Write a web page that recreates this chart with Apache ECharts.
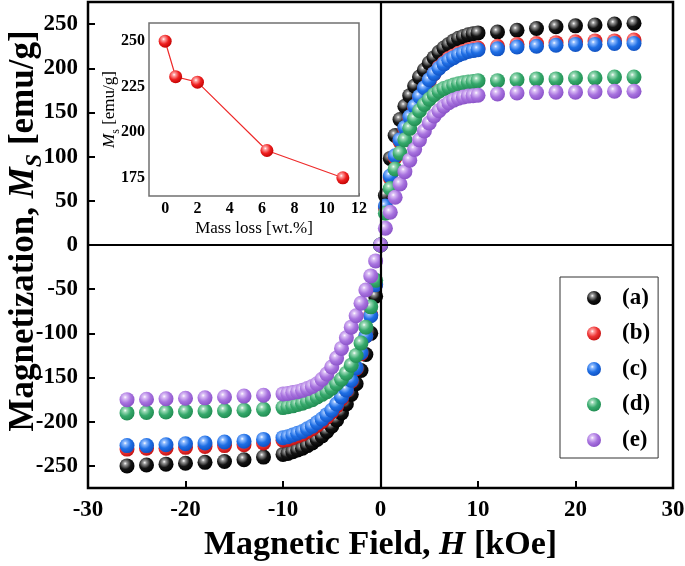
<!DOCTYPE html>
<html>
<head>
<meta charset="utf-8">
<script src="https://cdn.jsdelivr.net/npm/echarts@6/dist/echarts.min.js"></script>
<style>html,body{margin:0;padding:0;background:#fff}#c{width:685px;height:566px}</style>
</head>
<body>
<div id="c"></div>
<script>
// Magnetic field H [kOe]
const fieldH = [-26,-24,-22,-20,-18,-16,-14,-12,
  -10,-9.5,-9,-8.5,-8,-7.5,-7,-6.5,-6,-5.5,-5,-4.5,-4,-3.5,-3,-2.5,-2,-1.5,-1,-0.5,
  0,
  0.5,1,1.5,2,2.5,3,3.5,4,4.5,5,5.5,6,6.5,7,7.5,8,8.5,9,9.5,10,
  12,14,16,18,20,22,24,26];

// Magnetization M [emu/g] for each sample
const magA = [-250,-249,-248,-247,-246,-245,-243,-240,
  -237,-236,-234,-232,-230,-227,-224,-220,-216,-211,-205,-198,-190,-180,-169,-157,-142,-124,-100,-58,
  0,
  56,98,124,142,157,169,180,190,198,206,212,218,223,227,231,234,236,238,239,240,
  241,243,245,247,248,249,250,251];
const magB = [-231,-230,-230,-229,-228,-227,-226,-224,
  -221,-220,-218,-216,-214,-211,-208,-204,-200,-195,-189,-182,-174,-165,-154,-140,-123,-103,-79,-44,
  0,
  42,76,99,117,131,143,155,166,177,186,194,201,206,211,214,217,219,221,222,223,
  225,227,228,229,230,231,231,232];
const magC = [-227,-227,-226,-225,-224,-223,-222,-220,
  -218,-217,-215,-213,-211,-208,-205,-201,-197,-192,-187,-180,-172,-164,-153,-139,-122,-103,-80,-45,
  0,
  44,78,101,119,133,145,157,168,178,187,194,200,205,209,212,215,217,219,220,221,
  222,224,225,226,227,227,228,228];
const magD = [-190,-189.5,-189,-188.5,-188,-187.5,-187,-186,
  -184,-183,-182,-180.5,-179,-177,-175,-172,-169,-166,-162,-157,-152,-145,-136,-125,-111,-93,-70,-40,
  0,
  36,64,86,104,119,132,143,152,159,165,170,174,177,179,181,182.5,183.5,184.5,185,186,
  186,187,188,188,189,189,190,190];
const magE = [-175,-174.5,-174,-173.5,-173,-172,-171,-170,
  -168.5,-168,-167,-166,-164.5,-162.5,-160,-157,-152,-146,-138,-128,-117,-105,-93,-80,-66,-51,-35,-18,
  0,
  19,37,54,69,83,96,108,119,129,138,146,152,157,161,164,166,167.5,168.5,169,169.5,
  171,172,172.5,173,173,173.5,174,174];

const sampleNames = ['(a)','(b)','(c)','(d)','(e)'];

// Inset: saturation magnetization vs mass loss
const massLoss = [0, 0.65, 2, 6.3, 11];
const msValues = [250, 230.5, 227.5, 190, 175];

const mainYTicks = [-250,-200,-150,-100,-50,0,50,100,150,200,250];
const insetXTicks = [0,2,4,6,8,10,12];
const insetYTicks = [175,200,225,250];

const FONT = "'Liberation Serif','Times New Roman',serif";

function ball(base, light, dark) {
  return {type:'radial', x:0.38, y:0.34, r:0.7, colorStops:[
    {offset:0, color:'#ffffff'},
    {offset:0.16, color:light},
    {offset:0.55, color:base},
    {offset:1, color:dark}
  ]};
}
const balls = [
  ball('#141414','#9a9a9a','#000000'),
  ball('#ee3434','#ffa0a0','#c01010'),
  ball('#1f6fe5','#90bcff','#0f4fbf'),
  ball('#36a96c','#a0dcba','#1f8a50'),
  ball('#a873df','#dcc0f6','#8850c6')
];
const mags = [magA, magB, magC, magD, magE];

const scatterSeries = mags.map((m, k) => ({
  name: sampleNames[k],
  type: 'scatter',
  xAxisIndex: 0, yAxisIndex: 0,
  symbol: 'circle',
  symbolSize: 15,
  z: 3,
  itemStyle: {color: balls[k], opacity: 1},
  emphasis: {disabled: true},
  data: fieldH.map((h, i) => [h, m[i]])
}));

const chart = echarts.init(document.getElementById('c'), null, {renderer: 'canvas'});
chart.setOption({
  backgroundColor: '#fff',
  animation: false,
  textStyle: {fontFamily: FONT},
  grid: [
    {left: 88, top: 2, width: 585, height: 486, show: true, borderColor: '#000', borderWidth: 2.5, backgroundColor: '#fff', containLabel: false, outerBoundsMode: 'none'},
    {left: 149, top: 23, width: 210, height: 173, show: true, borderColor: '#707070', borderWidth: 1.5, backgroundColor: '#fff', z: 5, containLabel: false, outerBoundsMode: 'none'}
  ],
  xAxis: [
    {gridIndex: 0, type: 'value', min: -30, max: 30, interval: 10,
     axisLine: {show: false, onZero: false},
     axisTick: {show: true, inside: true, length: 7, lineStyle: {color: '#000', width: 2}},
     axisLabel: {color: '#000', fontSize: 23, fontWeight: 'bold', fontFamily: FONT, margin: 11},
     splitLine: {show: false},
     name: '{b|Magnetic Field, }{i|H}{b| [kOe]}', nameLocation: 'middle', nameGap: 40, nameMoveOverlap: false,
     nameTextStyle: {rich: {
       b: {fontSize: 34, fontWeight: 'bold', fontFamily: FONT, color: '#000'},
       i: {fontSize: 34, fontWeight: 'bold', fontStyle: 'italic', fontFamily: FONT, color: '#000'}
     }}},
    {gridIndex: 1, type: 'value', min: -1, max: 12,
     axisLine: {show: false, onZero: false},
     axisTick: {show: true, inside: true, length: 3, customValues: insetXTicks, lineStyle: {color: '#707070', width: 1}},
     axisLabel: {color: '#000', fontSize: 16, fontWeight: 'bold', fontFamily: FONT, margin: 5, customValues: insetXTicks},
     splitLine: {show: false},
     name: 'Mass loss [wt.%]', nameLocation: 'middle', nameGap: 24, nameMoveOverlap: false,
     nameTextStyle: {fontSize: 17, color: '#000', fontFamily: FONT}}
  ],
  yAxis: [
    {gridIndex: 0, type: 'value', min: -275, max: 275,
     axisLine: {show: false, onZero: false},
     axisTick: {show: true, inside: true, length: 7, customValues: mainYTicks, lineStyle: {color: '#000', width: 2}},
     axisLabel: {color: '#000', fontSize: 23, fontWeight: 'bold', fontFamily: FONT, margin: 10, customValues: mainYTicks},
     splitLine: {show: false},
     name: '{b|Magnetization, }{i|M}{s|S}{b| [emu/g]}', nameLocation: 'middle', nameGap: 47, nameRotate: 90, nameMoveOverlap: false,
     nameTextStyle: {padding: [0, 0, 0, 28], rich: {
       b: {fontSize: 35, fontWeight: 'bold', fontFamily: FONT, color: '#000', lineHeight: 38, verticalAlign: 'bottom'},
       i: {fontSize: 35, fontWeight: 'bold', fontStyle: 'italic', fontFamily: FONT, color: '#000', lineHeight: 38, verticalAlign: 'bottom'},
       s: {fontSize: 24, fontWeight: 'bold', fontStyle: 'italic', fontFamily: FONT, color: '#000', lineHeight: 24, verticalAlign: 'bottom', padding: [0, 0, -6, 0]}
     }}},
    {gridIndex: 1, type: 'value', min: 165, max: 260,
     axisLine: {show: false, onZero: false},
     axisTick: {show: true, inside: true, length: 3, customValues: insetYTicks, lineStyle: {color: '#707070', width: 1}},
     axisLabel: {color: '#000', fontSize: 16, fontWeight: 'bold', fontFamily: FONT, margin: 4, customValues: insetYTicks},
     splitLine: {show: false},
     name: '{i|M}{s|s}{n| [emu/g]}', nameLocation: 'middle', nameGap: 31, nameRotate: 90, nameMoveOverlap: false,
     nameTextStyle: {rich: {
       n: {fontSize: 17, fontFamily: FONT, color: '#000', lineHeight: 18, verticalAlign: 'bottom'},
       i: {fontSize: 17, fontStyle: 'italic', fontFamily: FONT, color: '#000', lineHeight: 18, verticalAlign: 'bottom'},
       s: {fontSize: 12, fontFamily: FONT, color: '#000', lineHeight: 12, verticalAlign: 'bottom', padding: [0, 0, -4, 0]}
     }}}
  ],
  legend: {
    show: true, orient: 'vertical', left: 560, top: 277,
    data: sampleNames,
    icon: 'circle', itemWidth: 14, itemHeight: 14, itemGap: 11.5,
    padding: [9, 8, 6, 27],
    borderColor: '#333', borderWidth: 1, backgroundColor: '#fff',
    selectedMode: false,
    textStyle: {fontSize: 23, fontWeight: 'bold', fontFamily: FONT, color: '#000', lineHeight: 24, padding: [0, 0, 0, 16]}
  },
  series: [
    {type: 'line', xAxisIndex: 0, yAxisIndex: 0, data: [], z: 1, silent: true,
     markLine: {silent: true, symbol: 'none', animation: false, label: {show: false},
       lineStyle: {color: '#000', width: 2.2, type: 'solid'},
       emphasis: {disabled: true},
       data: [{xAxis: 0}, {yAxis: 0}]}},
    ...scatterSeries,
    {name: 'inset', type: 'line', xAxisIndex: 1, yAxisIndex: 1, z: 6,
     data: massLoss.map((x, i) => [x, msValues[i]]),
     symbol: 'circle', symbolSize: 13, showSymbol: true,
     lineStyle: {color: '#ee2a2a', width: 1.2},
     itemStyle: {color: ball('#ee2020','#ffa0a0','#c00000')},
     emphasis: {disabled: true}}
  ]
});
</script>
</body>
</html>
